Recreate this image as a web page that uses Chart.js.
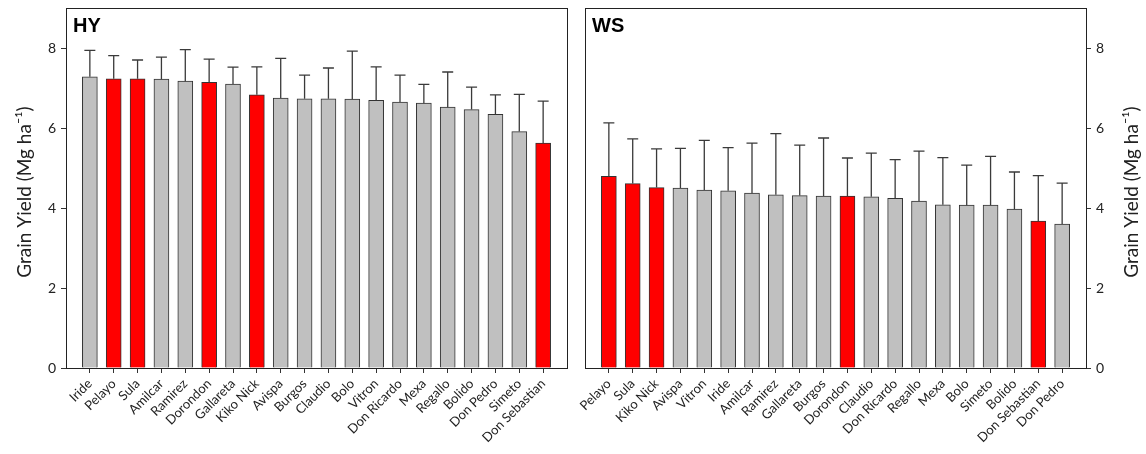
<!DOCTYPE html>
<html>
<head>
<meta charset="utf-8">
<script src="https://cdn.jsdelivr.net/npm/chart.js@4.4.1/dist/chart.umd.min.js"></script>
<style>
  body { margin: 0; background: #fff; }
  #wrap { position: relative; width: 1146px; height: 454px; }
  .panel { position: absolute; top: 0; height: 454px; }
</style>
</head>
<body>
<div id="wrap">
  <div class="panel" style="left:0; width:576px;"><canvas id="hy"></canvas></div>
  <div class="panel" style="left:576px; width:570px;"><canvas id="ws"></canvas></div>
</div>
<script>
// ---- data ----
const hyNames = ['Iride', 'Pelayo', 'Sula', 'Amilcar', 'Ramirez', 'Dorondon', 'Gallareta', 'Kiko Nick', 'Avispa', 'Burgos',
  'Claudio', 'Bolo', 'Vitron', 'Don Ricardo', 'Mexa', 'Regallo', 'Bolido', 'Don Pedro', 'Simeto', 'Don Sebastian'];
const hyYield = [7.28, 7.23, 7.23, 7.22, 7.17, 7.14, 7.10, 6.83, 6.75, 6.73, 6.73, 6.72, 6.69, 6.65, 6.62, 6.52, 6.46, 6.34, 5.91, 5.62];
const hyErr = [0.66, 0.58, 0.47, 0.55, 0.79, 0.58, 0.42, 0.70, 0.99, 0.59, 0.77, 1.20, 0.84, 0.67, 0.47, 0.88, 0.56, 0.49, 0.93, 1.05];

const wsNames = ['Pelayo', 'Sula', 'Kiko Nick', 'Avispa', 'Vitron', 'Iride', 'Amilcar', 'Ramirez', 'Gallareta', 'Burgos',
  'Dorondon', 'Claudio', 'Don Ricardo', 'Regallo', 'Mexa', 'Bolo', 'Simeto', 'Bolido', 'Don Sebastian', 'Don Pedro'];
const wsYield = [4.79, 4.61, 4.51, 4.50, 4.45, 4.43, 4.37, 4.33, 4.31, 4.30, 4.30, 4.28, 4.24, 4.17, 4.08, 4.07, 4.07, 3.97, 3.67, 3.60];
const wsErr = [1.34, 1.12, 0.97, 0.99, 1.24, 1.08, 1.25, 1.53, 1.26, 1.45, 0.95, 1.09, 0.97, 1.25, 1.18, 1.00, 1.22, 0.93, 1.14, 1.02];

const highlighted = ['Pelayo', 'Sula', 'Dorondon', 'Kiko Nick', 'Don Sebastian'];
const yMax = 9;
const yStep = 2;
const yTitle = 'Grain Yield (Mg ha\u207B\u00B9)';

const FONT = 'Lato, "Open Sans", sans-serif';
const INK = '#222';

// frame, error bars, panel letter and axis title
const decoPlugin = {
  id: 'deco',
  afterDatasetsDraw(chart, args, opts) {
    const ctx = chart.ctx;
    const meta = chart.getDatasetMeta(0);
    const y = chart.scales.y;
    ctx.save();
    ctx.strokeStyle = '#3a3a3a';
    ctx.lineWidth = 1.3;
    meta.data.forEach((bar, i) => {
      const v = chart.data.datasets[0].data[i];
      if (v == null) return;
      const top = y.getPixelForValue(v + opts.errors[i]);
      ctx.beginPath();
      ctx.moveTo(bar.x, bar.y);
      ctx.lineTo(bar.x, top);
      ctx.moveTo(bar.x - 5.5, top);
      ctx.lineTo(bar.x + 5.5, top);
      ctx.stroke();
    });
    ctx.restore();
  },
  afterDraw(chart, args, opts) {
    const ctx = chart.ctx;
    const a = chart.chartArea;
    ctx.save();
    ctx.strokeStyle = INK;
    ctx.lineWidth = 1;
    ctx.strokeRect(Math.round(a.left) + 0.5, Math.round(a.top) + 0.5,
      Math.round(a.right - a.left), Math.round(a.bottom - a.top));

    ctx.fillStyle = '#000';
    ctx.font = 'bold 20px "Liberation Sans", Arial, sans-serif';
    ctx.textBaseline = 'alphabetic';
    ctx.textAlign = 'left';
    ctx.fillText(opts.label, a.left + 7, a.top + 24);

    ctx.fillStyle = INK;
    ctx.font = '19px ' + FONT;
    ctx.textAlign = 'center';
    ctx.textBaseline = 'middle';
    ctx.translate(opts.titleX, (a.top + a.bottom) / 2 + 4);
    ctx.rotate(-Math.PI / 2);
    ctx.fillText(yTitle, 0, 0);
    ctx.restore();
  }
};

function makePanel(id, label, names, values, errors, side) {
  const labels = ['', ...names, ''];
  const data = [null, ...values, null];
  const errs = [0, ...errors, 0];
  const colors = labels.map(n => highlighted.includes(n) ? '#ff0000' : '#c0c0c0');
  const canvasW = side === 'left' ? 576 : 570;

  return new Chart(document.getElementById(id), {
    type: 'bar',
    data: {
      labels,
      datasets: [{
        data,
        backgroundColor: colors,
        borderColor: '#333',
        borderWidth: 1,
        barThickness: 15
      }]
    },
    options: {
      responsive: true,
      maintainAspectRatio: false,
      animation: false,
      layout: {
        padding: side === 'left'
          ? { top: 8, right: 9, left: 0, bottom: 0 }
          : { top: 8, right: 0, left: 9, bottom: 0 }
      },
      plugins: {
        legend: { display: false },
        tooltip: { enabled: false },
        deco: { label, errors: errs, titleX: side === 'left' ? 25 : 556 }
      },
      scales: {
        x: {
          type: 'category',
          offset: false,
          grid: {
            offset: false,
            drawOnChartArea: false,
            tickLength: 5,
            color: c => (c.index > 0 && c.index <= names.length) ? '#333' : 'rgba(0,0,0,0)'
          },
          border: { color: INK },
          ticks: {
            autoSkip: false,
            maxRotation: 45,
            minRotation: 45,
            padding: 3,
            color: INK,
            font: { family: FONT, size: 13 }
          },
          afterFit: s => { s.height = 454 - 368; s.paddingLeft = 0; s.paddingRight = 0; }
        },
        y: {
          position: side,
          min: 0,
          max: yMax,
          grid: { drawOnChartArea: false, tickLength: 5, color: '#333' },
          border: { color: INK },
          ticks: {
            stepSize: yStep,
            includeBounds: false,
            padding: 5,
            color: INK,
            font: { family: FONT, size: 14 }
          },
          afterFit: s => {
            s.width = side === 'left' ? 66 : canvasW - 510;
            s.paddingTop = 0;
            s.paddingBottom = 0;
          }
        }
      }
    },
    plugins: [decoPlugin]
  });
}

makePanel('hy', 'HY', hyNames, hyYield, hyErr, 'left');
makePanel('ws', 'WS', wsNames, wsYield, wsErr, 'right');
</script>
</body>
</html>
